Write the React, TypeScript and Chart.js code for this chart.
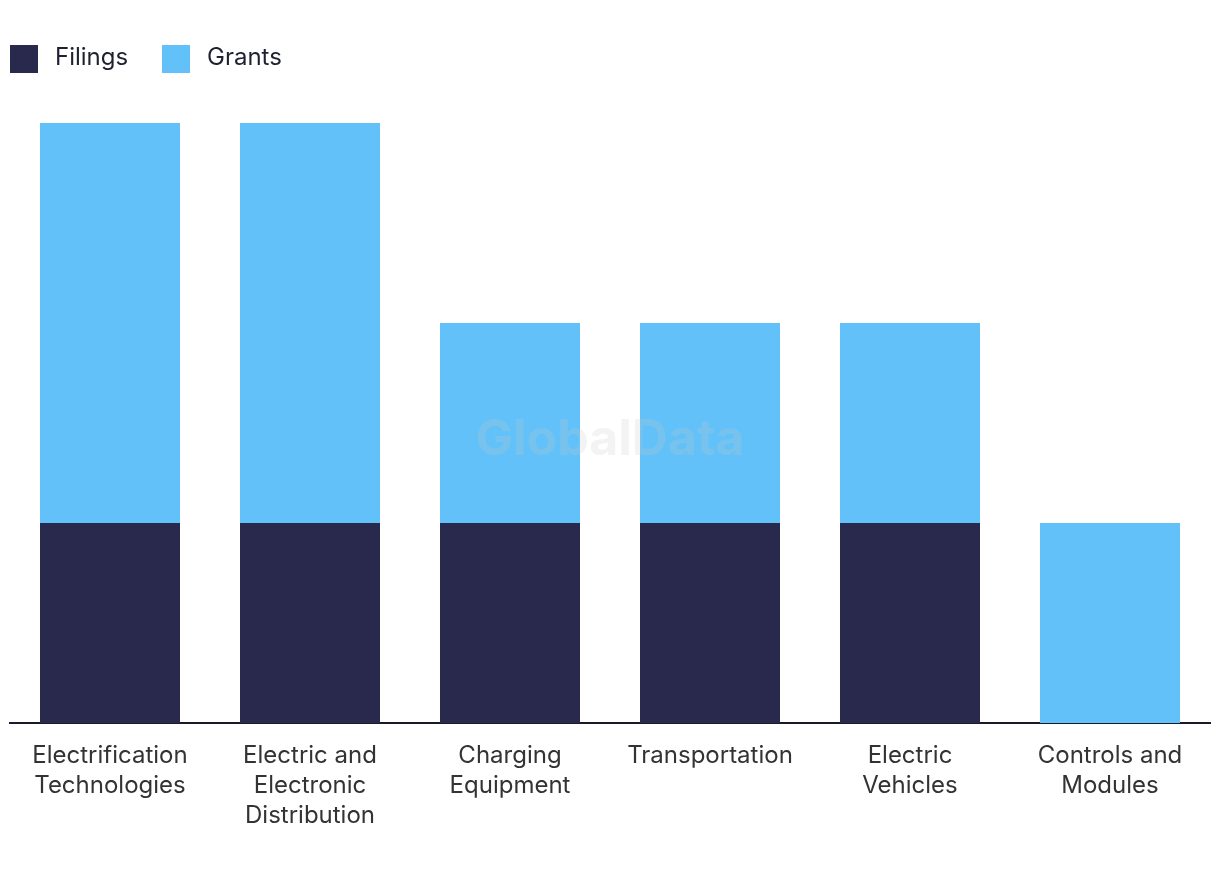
import React, { useEffect, useRef } from "react";
import { Chart, registerables } from "chart.js";

Chart.register(...registerables);

const categories: string[][] = [
  ["Electrification", "Technologies"],
  ["Electric and", "Electronic", "Distribution"],
  ["Charging", "Equipment"],
  ["Transportation"],
  ["Electric", "Vehicles"],
  ["Controls and", "Modules"],
];
const filings: number[] = [1, 1, 1, 1, 1, 0];
const grants: number[] = [2, 2, 1, 1, 1, 1];
const seriesNames: string[] = ["Filings", "Grants"];
const seriesColors: string[] = ["#28294C", "#62C1F9"];

const FONT = "Inter, 'Noto Sans', sans-serif";

const legendPlugin = {
  id: "customLegend",
  afterDraw(chart: any) {
    const ctx = chart.ctx;
    ctx.save();
    const xs = [10, 162];
    seriesNames.forEach((name, i) => {
      ctx.fillStyle = seriesColors[i];
      ctx.fillRect(xs[i], 45, 28, 28);
      ctx.fillStyle = "#1f2030";
      ctx.font = `24px ${FONT}`;
      ctx.textBaseline = "middle";
      ctx.textAlign = "left";
      ctx.fillText(name, xs[i] + 45, 58);
    });
    ctx.restore();
  },
};

const watermarkPlugin = {
  id: "watermark",
  afterDatasetsDraw(chart: any) {
    const ctx = chart.ctx;
    ctx.save();
    ctx.fillStyle = "rgba(200,200,200,0.22)";
    ctx.font = `bold 50px ${FONT}`;
    ctx.textAlign = "center";
    ctx.textBaseline = "middle";
    ctx.fillText("GlobalData", 610, 440);
    ctx.restore();
  },
};

export default function App() {
  const ref = useRef<HTMLCanvasElement | null>(null);
  useEffect(() => {
    document.body.style.margin = "0";
    if (!ref.current) return;
    const chart = new Chart(ref.current, {
      type: "bar",
      data: {
        labels: categories,
        datasets: [
          {
            label: seriesNames[0],
            data: filings,
            backgroundColor: seriesColors[0],
            barPercentage: 0.7,
            categoryPercentage: 1,
          },
          {
            label: seriesNames[1],
            data: grants,
            backgroundColor: seriesColors[1],
            barPercentage: 0.7,
            categoryPercentage: 1,
          },
        ],
      },
      options: {
        animation: false,
        responsive: false,
        maintainAspectRatio: false,
        layout: { padding: { left: 10, right: 10, top: 123, bottom: 0 } },
        plugins: { legend: { display: false }, tooltip: { enabled: false } },
        scales: {
          x: {
            stacked: true,
            grid: { display: false, drawTicks: false },
            border: { display: true, color: "#1a1a2a", width: 2 },
            ticks: {
              color: "#333333",
              font: { family: FONT, size: 24, lineHeight: 1.25 },
              padding: 18,
              maxRotation: 0,
              autoSkip: false,
            },
            afterFit: (scale: any) => {
              scale.height = 157;
            },
          },
          y: {
            stacked: true,
            display: false,
            min: 0,
            max: 3,
          },
        },
      },
      plugins: [legendPlugin, watermarkPlugin],
    });
    return () => chart.destroy();
  }, []);
  return (
    <div style={{ width: 1220, height: 880 }}>
      <canvas ref={ref} width={1220} height={880} style={{ display: "block" }} />
    </div>
  );
}
